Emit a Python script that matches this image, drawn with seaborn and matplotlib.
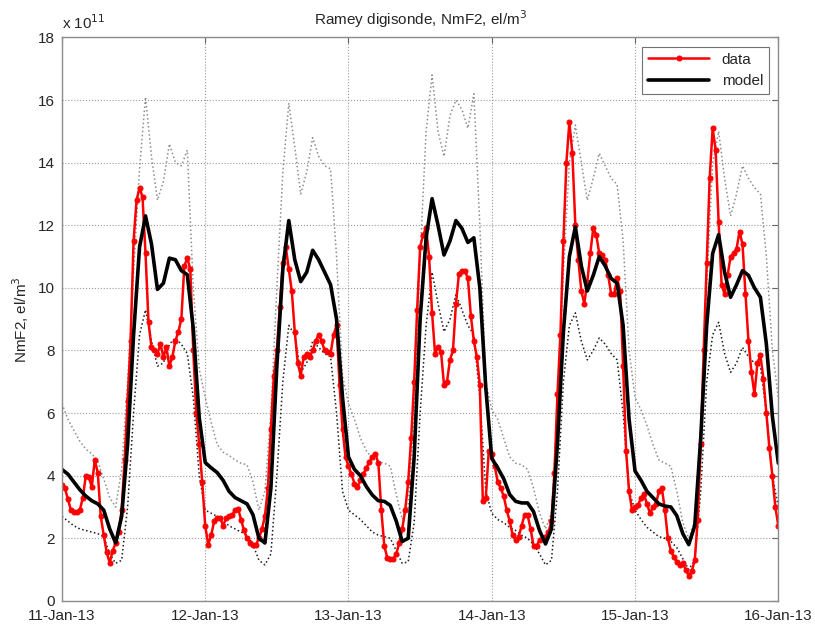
import numpy as np
import pandas as pd
import seaborn as sb
import matplotlib
matplotlib.use('Agg')
import matplotlib.pyplot as plt
import matplotlib.dates as mdates

# NmF2 in units of 1e11 el/m^3, Ramey 11-16 Jan 2013
start = pd.Timestamp('2013-01-11')
model_hours = np.arange(0, 121)
data_hours = np.arange(0, 120.5, 0.5)

model = [4.2, 4.05, 3.8, 3.55, 3.35, 3.2, 3.1, 2.9, 2.3, 1.85, 2.7, 5.0, 8.5, 11.3, 12.3, 11.4, 9.95, 10.15, 10.95, 10.9, 10.55, 10.42, 8.7, 5.85,
         4.42, 4.25, 4.1, 3.85, 3.5, 3.3, 3.2, 3.1, 2.75, 2.0, 1.85, 3.6, 7.5, 10.6, 12.15, 10.9, 10.2, 10.5, 11.2, 10.9, 10.5, 10.1, 9.0, 6.5,
         4.6, 4.2, 4.0, 3.65, 3.38, 3.2, 3.18, 3.05, 2.55, 1.9, 2.0, 4.6, 9.0, 11.6, 12.85, 12.0, 11.05, 11.5, 12.15, 11.9, 11.45, 11.6, 10.0, 6.8,
         4.55, 4.25, 3.9, 3.4, 3.18, 3.13, 3.13, 2.85, 2.25, 1.82, 2.3, 5.0, 8.6, 11.0, 11.95, 10.7, 9.9, 10.4, 11.0, 10.7, 10.3, 10.15, 8.8, 5.8,
         4.15, 3.85, 3.5, 3.3, 3.1, 3.03, 3.0, 2.72, 2.15, 1.8, 2.4, 5.2, 8.8, 11.1, 11.7, 10.5, 9.7, 10.1, 10.55, 10.4, 10.0, 9.7, 8.2, 5.9,
         4.4]

upper = [6.3, 5.8, 5.45, 5.1, 4.85, 4.7, 4.45, 3.9, 3.3, 3.0, 4.2, 7.0, 10.5, 13.8, 16.1, 14.2, 12.8, 13.4, 14.6, 14.0, 13.9, 14.4, 10.0, 7.4,
         6.5, 5.7, 5.0, 4.75, 4.65, 4.5, 4.4, 4.35, 3.8, 2.9, 3.5, 6.0, 10.0, 13.7, 15.9, 14.5, 13.0, 13.7, 14.8, 14.2, 13.9, 13.8, 11.0, 7.2,
         6.3, 5.8, 5.2, 4.8, 4.55, 4.45, 4.4, 4.3, 3.4, 2.6, 3.0, 6.0, 11.0, 15.0, 16.8, 15.0, 14.2, 15.5, 16.0, 15.7, 15.1, 16.2, 12.0, 7.0,
         6.1, 5.8, 5.2, 4.6, 4.4, 4.35, 4.2, 3.6, 2.8, 2.3, 2.8, 6.0, 10.5, 14.0, 15.2, 14.0, 12.8, 13.5, 14.3, 13.9, 13.5, 13.3, 11.5, 8.0,
         6.5, 6.1, 5.6, 5.0, 4.5, 4.4, 4.3, 3.5, 2.5, 2.0, 2.6, 5.5, 10.0, 14.0, 15.0, 13.5, 12.3, 13.0, 13.9, 13.5, 13.2, 13.0, 11.0, 8.0,
         6.5]

lower = [2.7, 2.55, 2.4, 2.3, 2.25, 2.2, 2.15, 2.05, 1.5, 1.2, 1.3, 3.0, 6.0, 8.5, 9.3, 8.3, 7.5, 7.6, 8.2, 8.4, 8.2, 7.9, 6.5, 4.0,
         2.9, 2.8, 2.7, 2.55, 2.4, 2.3, 2.2, 2.1, 1.8, 1.3, 1.15, 1.5, 4.0, 7.0, 8.8, 8.5, 7.3, 7.6, 8.3, 8.1, 7.9, 7.8, 6.0, 3.5,
         2.9, 2.75, 2.6, 2.4, 2.2, 2.1, 2.05, 2.0, 1.6, 1.2, 1.25, 2.5, 6.0, 8.8, 10.5, 9.5, 8.6, 9.0, 9.8, 9.3, 8.8, 8.5, 6.5, 3.5,
         2.8, 2.6, 2.5, 2.35, 2.25, 2.1, 2.0, 1.8, 1.5, 1.15, 1.3, 3.5, 7.0, 8.8, 9.2, 8.3, 7.7, 8.0, 8.4, 8.2, 7.9, 7.7, 6.0, 3.5,
         2.9, 2.6, 2.35, 2.2, 2.05, 2.0, 1.9, 1.7, 1.35, 1.0, 1.3, 3.5, 7.0, 8.5, 8.9, 7.9, 7.3, 7.6, 8.1, 7.8, 7.6, 7.5, 6.0, 4.0,
         3.0]

data = [3.7, 3.6, 3.25, 2.9, 2.85, 2.85, 2.9, 3.3, 4.0, 3.95, 3.65, 4.5, 4.1, 2.7, 2.1, 1.55, 1.22, 1.6, 1.85, 2.2,
        2.9, 4.5, 6.4, 8.3, 11.5, 12.8, 13.2, 12.9, 11.1, 8.9, 8.1, 8.0, 7.9, 8.2, 7.8, 8.1, 7.5, 7.8, 8.3, 8.6,
        9.0, 10.7, 10.95, 10.6, 8.0, 6.0, 5.0, 3.8,
        2.4, 1.8, 2.1, 2.55, 2.65, 2.65, 2.4, 2.65, 2.7, 2.75, 2.9, 2.95, 2.6, 2.25, 2.0, 1.85, 1.78, 1.8, 2.0, 2.3,
        2.7, 3.6, 5.5, 7.2, 8.0, 9.4, 10.8, 11.3, 10.6, 9.9, 8.6, 7.6, 7.2, 7.8, 7.9, 7.8, 8.0, 8.3, 8.5, 8.3,
        8.0, 7.95, 7.9, 8.5, 8.8, 6.9, 5.5, 4.6,
        4.3, 4.05, 3.75, 3.65, 3.85, 4.05, 4.25, 4.45, 4.6, 4.7, 4.4, 2.9, 1.75, 1.38, 1.35, 1.35, 1.5, 1.85, 2.3, 2.9,
        3.8, 5.2, 7.0, 9.3, 11.3, 11.7, 11.9, 11.0, 9.2, 7.9, 8.1, 7.95, 6.9, 7.0, 7.7, 8.0, 9.5, 10.45, 10.55, 10.55,
        10.3, 9.1, 8.3, 7.8, 6.9, 3.2, 3.3, 4.8,
        4.7, 4.3, 3.8, 3.6, 3.35, 2.9, 2.55, 2.1, 1.95, 2.05, 2.4, 2.75, 2.75, 2.3, 1.75, 1.75, 1.95, 2.0, 2.05, 2.2,
        2.55, 4.1, 6.6, 8.5, 11.5, 14.0, 15.3, 14.3, 12.0, 10.9, 9.9, 9.5, 10.2, 11.1, 11.9, 11.7, 11.1, 11.05, 10.9, 10.4,
        9.8, 9.8, 10.3, 9.9, 7.5, 4.8, 3.5, 2.9,
        3.0, 3.05, 3.3, 3.4, 3.1, 2.8, 3.0, 3.1, 3.5, 3.6, 2.9, 2.0, 1.6, 1.4, 1.25, 1.15, 1.2, 1.0, 0.8, 0.95,
        1.3, 2.6, 5.0, 8.0, 10.8, 13.5, 15.1, 14.4, 12.1, 10.1, 9.8, 10.4, 11.0, 11.1, 11.25, 11.8, 11.4, 9.8, 8.3, 7.3,
        6.6, 7.6, 7.85, 7.1, 6.0, 4.9, 4.0, 3.0,
        2.4]

model_df = pd.DataFrame({'time': start + pd.to_timedelta(model_hours, unit='h'),
                         'model': model, 'upper': upper, 'lower': lower})
data_df = pd.DataFrame({'time': start + pd.to_timedelta(data_hours, unit='h'), 'data': data})

sb.set_style('white')
plt.rcParams['font.family'] = ['Liberation Sans', 'DejaVu Sans']
fs = 11

fig = plt.figure(figsize=(8.15, 6.24), dpi=100)
ax = fig.add_axes([0.076, 0.037, 0.879, 0.903])

sb.lineplot(data=model_df, x='time', y='upper', ax=ax, color='0.55', linestyle=':', linewidth=1.1)
sb.lineplot(data=model_df, x='time', y='lower', ax=ax, color='0.1', linestyle=':', linewidth=1.1)
sb.lineplot(data=data_df, x='time', y='data', ax=ax, color='red', linewidth=1.8,
            marker='o', markersize=3.6, markeredgecolor='red', label='data')
sb.lineplot(data=model_df, x='time', y='model', ax=ax, color='black', linewidth=2.6, label='model')

ax.set_xlim(start, start + pd.Timedelta(days=5))
ax.set_ylim(0, 18)
ax.set_yticks(np.arange(0, 19, 2))
ax.xaxis.set_major_locator(mdates.DayLocator())
ax.xaxis.set_major_formatter(mdates.DateFormatter('%d-%b-%y'))
ax.grid(True, linestyle=':', color='0.6', linewidth=0.8)
ax.tick_params(direction='in', length=4, top=True, right=True, labelsize=fs, color='0.4')
ax.tick_params(axis='x', pad=6)
ax.tick_params(axis='y', pad=5)
for s in ax.spines.values():
    s.set_color('0.55')
    s.set_linewidth(1.0)

ax.set_xlabel('')
ax.set_ylabel('NmF2, el/m$^3$', fontsize=fs, labelpad=5)
ax.set_title('Ramey digisonde, NmF2, el/m$^3$', fontsize=fs, pad=9)
ax.text(0, 1.01, 'x 10$^{11}$', transform=ax.transAxes, fontsize=fs, va='bottom', ha='left')

leg = ax.legend(loc='upper right', fontsize=fs, fancybox=False, edgecolor='0.3',
                borderaxespad=0.6, handlelength=4, labelspacing=0.5)
leg.get_frame().set_linewidth(0.8)

fig.savefig('out.png', dpi=100)
